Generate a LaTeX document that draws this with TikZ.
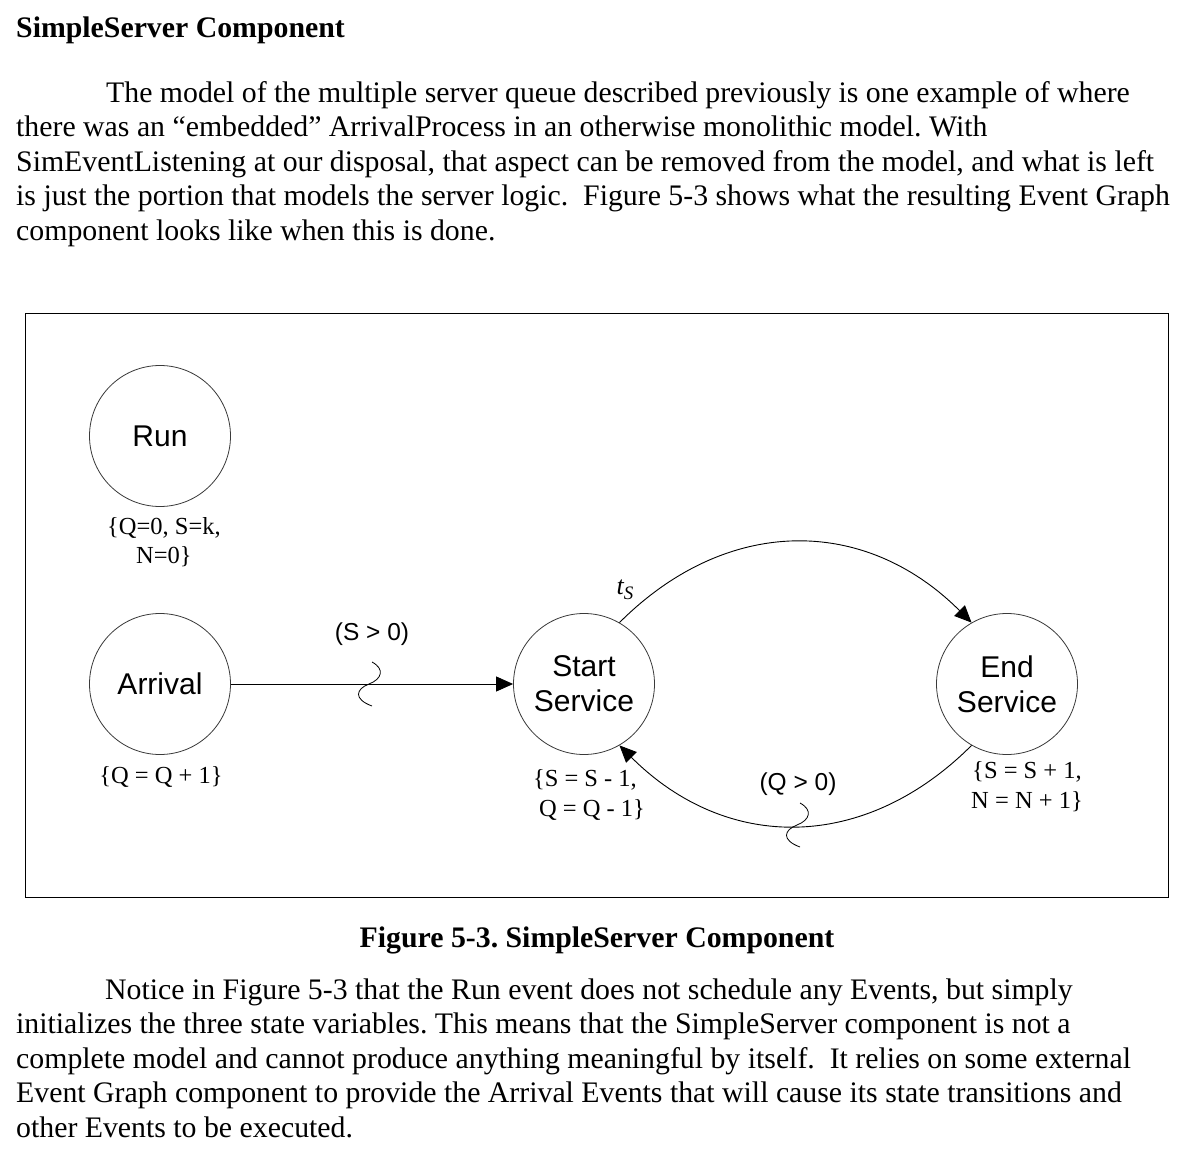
\documentclass[tikz,border=0pt]{standalone}
\usepackage{fontspec}
\setmainfont{Liberation Serif}
\setsansfont{Liberation Sans}
\usetikzlibrary{arrows.meta,positioning}
\definecolor{ink}{HTML}{000000}
\definecolor{rim}{HTML}{3A3A3A}
\frenchspacing

\begin{document}
\begin{tikzpicture}[x=1pt, y=-1pt,
    event/.style={circle, draw=rim, line width=0.8pt, minimum size=141pt, inner sep=0pt,
                  align=center, font=\sffamily\fontsize{30}{35}\selectfont},
    sched/.style={-{Triangle[length=17pt,width=15pt]}, ink, line width=0.9pt},
    statelab/.style={inner sep=0pt, font=\fontsize{24.5}{29.5}\selectfont},
    condlab/.style={inner sep=0pt, font=\sffamily\fontsize{24.5}{29.5}\selectfont},
    bodyline/.style={anchor=base west, inner sep=0pt, font=\fontsize{29.8}{34.5}\selectfont},
    squiggle/.pic={\draw[ink, line width=0.8pt]
        (3,-22) .. controls (16,-15) and (13,-5) .. (0,0)
                .. controls (-13,5) and (-16,15) .. (3,22);}]
  \fill[white] (0,0) rectangle (1192,1150);
  \useasboundingbox (0,0) rectangle (1192,1150);

  % heading and first paragraph
  \node[bodyline, font=\bfseries\fontsize{29.8}{34.5}\selectfont] (title) at (16,37.5) {SimpleServer Component};
  \node[bodyline] (para1) at (106,102.5) {The model of the multiple server queue described previously is one example of where};
  \foreach \i/\y/\txt in {1/137/{there was an “embedded” ArrivalProcess in an otherwise monolithic model. With},
                          2/171.5/{SimEventListening at our disposal, that aspect can be removed from the model, and what is left},
                          3/206/{is just the portion that models the server logic.\ \ Figure 5-3 shows what the resulting Event Graph},
                          4/240.5/{component looks like when this is done.}}{
    \node[bodyline] (para1-\i) at (16,\y) {\txt};}

  % figure frame
  \draw[ink, line width=0.9pt] (25,313) rectangle (1168,897);

  % events
  \node[event] (run) at (160,436) {Run};
  \node[event] (arrival) at (160,684) {Arrival};
  \node[event] (startsvc) at (584,684) {Start\\Service};
  \node[event] (endsvc) at (1007,684) {End\\Service};

  % state changes
  \node[statelab, align=center] (runst) at (164,542) {\{Q=0, S=k,\\N=0\}};
  \node[statelab] (arrst) at (161,777) {\{Q = Q + 1\}};
  \node[statelab, align=left] (startst) at (589,795) {\{S = S - 1,\\\ Q = Q - 1\}};
  \node[statelab, align=center] (endst) at (1027,786.5) {\{S = S + 1,\\N = N + 1\}};

  % scheduling edges
  \draw[sched] (arrival) -- (startsvc);
  \draw[sched] (startsvc.60) .. controls +(107,-107) and +(-107,-107) .. (endsvc.120);
  \draw[sched] (endsvc.240) .. controls +(-107,107) and +(107,107) .. (startsvc.300);

  % conditions and delay
  \pic at (369,684) {squiggle};
  \pic at (797,825) {squiggle};
  \node[condlab] (scond) at (372,634) {(S > 0)};
  \node[condlab] (qcond) at (798,784) {(Q > 0)};
  \node[statelab, font=\itshape\fontsize{26}{30}\selectfont] (tsdelay) at (625,590)
        {t\raisebox{-5pt}{\fontsize{19}{19}\selectfont S}};

  % caption and second paragraph
  \node[bodyline, anchor=base, font=\bfseries\fontsize{29.8}{34.5}\selectfont] (caption) at (597,947)
        {Figure 5-3. SimpleServer Component};
  \node[bodyline] (para2) at (105,999) {Notice in Figure 5-3 that the Run event does not schedule any Events, but simply};
  \foreach \i/\y/\txt in {1/1033.5/{initializes the three state variables. This means that the SimpleServer component is not a},
                          2/1068/{complete model and cannot produce anything meaningful by itself.\ \ It relies on some external},
                          3/1102.5/{Event Graph component to provide the Arrival Events that will cause its state transitions and},
                          4/1137/{other Events to be executed.}}{
    \node[bodyline] (para2-\i) at (16,\y) {\txt};}
\end{tikzpicture}
\end{document}
